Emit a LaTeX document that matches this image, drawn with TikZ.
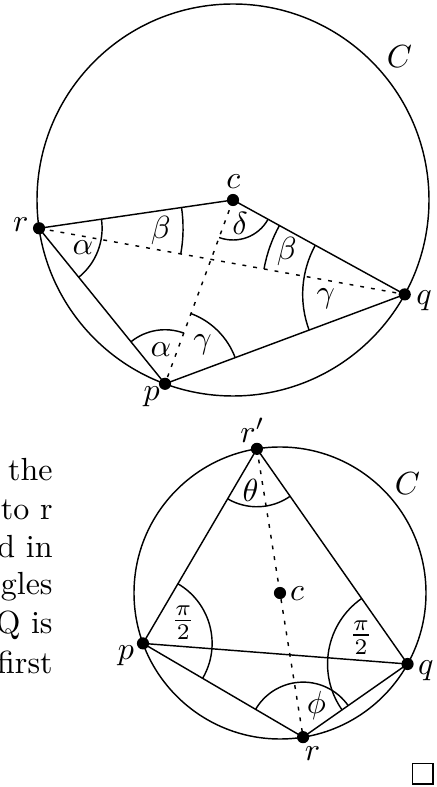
\documentclass[tikz,border=0pt]{standalone}
\usetikzlibrary{calc,angles}
\begin{document}
\begin{tikzpicture}[x=0.3125pt,y=0.3125pt, line width=0.45pt,
  dot/.style={circle,fill,inner sep=0pt,minimum size=3.8pt},
  dotline/.style={dash pattern=on 1.2pt off 2.2pt},
  lab/.style={inner sep=0pt},
  frag/.style={anchor=base east,inner sep=0pt},
  angmark/.style={draw,angle radius=#1}]
\useasboundingbox (0,0) rectangle (437,787);
% ---------- top figure ----------
\coordinate (c1) at (233,587);
\path (c1) ++(188.3:196) coordinate (r1);
\path (c1) ++(-28.8:196) coordinate (q1);
\path (c1) ++(249.7:196) coordinate (p1);
\draw (c1) circle[radius=196];
\draw (r1) -- (c1) -- (q1) -- (p1) -- (r1);
\draw[dotline] (r1) -- (q1);
\draw[dotline] (c1) -- (p1);
\pic[angmark=19.7pt] {angle=p1--r1--c1};
\pic[angmark=45pt] {angle=q1--r1--c1};
\pic[angmark=12.5pt] {angle=p1--c1--q1};
\pic[angmark=44.7pt] {angle=c1--q1--r1};
\pic[angmark=31.9pt] {angle=c1--q1--p1};
\pic[angmark=16.9pt] {angle=c1--p1--r1};
\pic[angmark=23.4pt] {angle=q1--p1--c1};
\node[dot] (dr1) at (r1) {};
\node[dot] (dc1) at (c1) {};
\node[dot] (dq1) at (q1) {};
\node[dot] (dp1) at (p1) {};
\node[lab] (lc1) at (233.3,605.3) {$c$};
\node[lab] (lr1) at (20.8,562) {$r$};
\node[lab] (lq1) at (424,486.2) {$q$};
\node[lab] (lp1) at (151.7,390.3) {$p$};
\node[lab] (lC1) at (399.5,730.3) {$C$};
\node[lab] (b1) at (160.8,556.2) {$\beta$};
\node[lab] (a1) at (82.8,539) {$\alpha$};
\node[lab] (d1) at (240,563.7) {$\delta$};
\node[lab] (b2) at (286.7,535.3) {$\beta$};
\node[lab] (g1) at (325.8,488.7) {$\gamma$};
\node[lab] (a2) at (160.8,437.8) {$\alpha$};
\node[lab] (g2) at (202.5,442) {$\gamma$};
% ---------- text fragments ----------
\node[frag] (t1) at (53.3,306) {f the};
\node[frag] (t2) at (53.3,267.7) {to r};
\node[frag] (t3) at (53.3,229.3) {d in};
\node[frag] (t4) at (53.3,192) {gles};
\node[frag] (t5) at (53.3,153.7) {Q is};
\node[frag] (t6) at (53.3,113.7) {first};
% ---------- bottom figure ----------
\coordinate (c2) at (280,194);
\path (c2) ++(99.1:146) coordinate (rp2);
\path (c2) ++(200.2:146) coordinate (p2);
\path (c2) ++(-29.1:146) coordinate (q2);
\path (c2) ++(-80.9:146) coordinate (r2);
\draw (c2) circle[radius=146];
\draw (rp2) -- (p2) -- (q2) -- (rp2);
\draw (p2) -- (r2) -- (q2);
\draw[dotline] (rp2) -- (r2);
\pic[angmark=18.1pt] {angle=p2--rp2--q2};
\pic[angmark=21.6pt] {angle=r2--p2--rp2};
\pic[angmark=25pt] {angle=rp2--q2--r2};
\pic[angmark=17.2pt] {angle=q2--r2--p2};
\node[dot] (drp2) at (rp2) {};
\node[dot] (dc2) at (c2) {};
\node[dot] (dp2) at (p2) {};
\node[dot] (dq2) at (q2) {};
\node[dot] (dr2) at (r2) {};
\node[lab] (lrp2) at (252.5,357) {$r'$};
\node[lab] (th) at (250.5,296.2) {$\theta$};
\node[lab] (lc2) at (297,193.7) {$c$};
\node[lab] (lC2) at (407.5,303.7) {$C$};
\node[lab] (h1) at (183.3,164.2) {$\frac{\pi}{2}$};
\node[lab] (h2) at (361,149.5) {$\frac{\pi}{2}$};
\node[lab] (lp2) at (125.8,131.2) {$p$};
\node[lab] (lq2) at (425.8,116.2) {$q$};
\node[lab] (ph) at (316.3,81.2) {$\phi$};
\node[lab] (lr2) at (312.5,33.7) {$r$};
\node[draw,line width=0.4pt,inner sep=0pt,minimum size=6.4pt] (qed) at (422.8,13.3) {};
\end{tikzpicture}
\end{document}
